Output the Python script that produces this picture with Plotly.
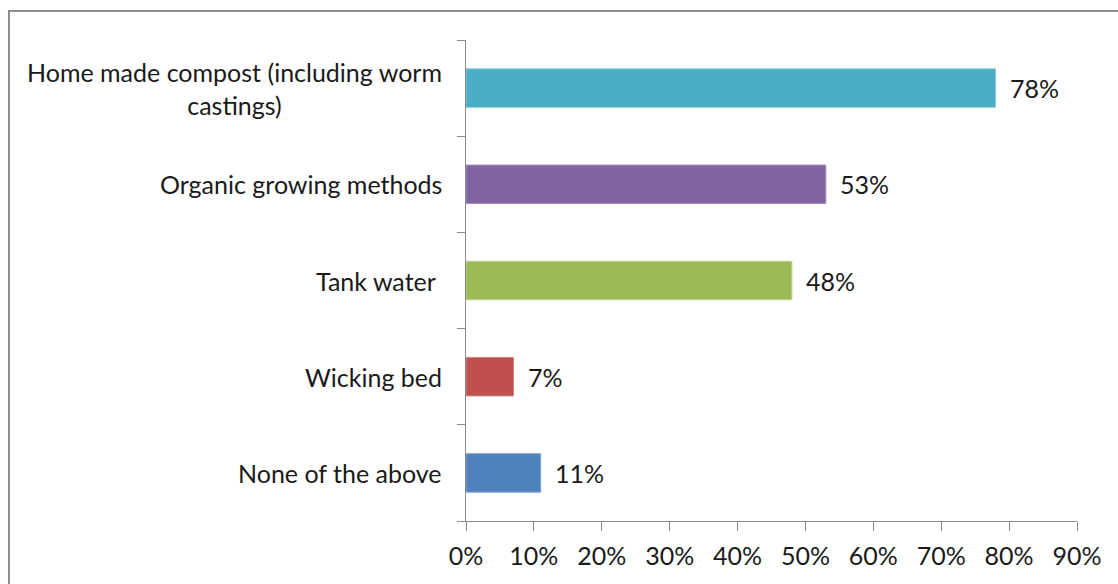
import plotly.graph_objects as go

# Survey responses: share of gardens using each practice
categories = [
    "None of the above",
    "Wicking bed",
    "Tank water\u00a0",
    "Organic growing methods",
    "Home made compost (including worm<br>castings)",
]
values = [11, 7, 48, 53, 78]
colors = ["#4F81BD", "#C0504D", "#9BBB59", "#8064A2", "#4BACC6"]
edge_colors = ["#7FA3D3", "#D68583", "#BBD28C", "#A28DBF", "#84C8DA"]
x_ticks = [0, 10, 20, 30, 40, 50, 60, 70, 80, 90]
x_tick_labels = [f"{t}%" for t in x_ticks]

FONT = "Lato"
FSIZE = 25
TEXT = "#1a1a1a"
AXIS = "#8a8a8a"

fig = go.Figure(
    go.Bar(
        x=values,
        y=list(range(len(categories))),
        orientation="h",
        marker=dict(color=colors, line=dict(color=edge_colors, width=1)),
        width=0.4,
        hoverinfo="skip",
    )
)

annotations = []
# category labels, right-aligned against the axis, wrapped lines centred
for i, cat in enumerate(categories):
    annotations.append(dict(
        x=0, xref="paper", y=i, yref="y",
        text=cat, showarrow=False,
        xanchor="right", yanchor="middle", align="center",
        xshift=-22, font=dict(family=FONT, size=FSIZE, color=TEXT),
    ))
# value labels just past the end of each bar
for i, v in enumerate(values):
    annotations.append(dict(
        x=v, xref="x", y=i, yref="y",
        text=f"{v}%", showarrow=False,
        xanchor="left", yanchor="middle",
        xshift=12, font=dict(family=FONT, size=FSIZE, color=TEXT),
    ))

fig.update_layout(
    width=1118, height=584,
    margin=dict(l=466, r=41, t=40, b=63),
    paper_bgcolor="white", plot_bgcolor="white",
    showlegend=False,
    annotations=annotations,
    xaxis=dict(
        range=[0, 90], tickvals=x_ticks, ticktext=x_tick_labels,
        showgrid=False, zeroline=False,
        showline=True, linecolor=AXIS, linewidth=1,
        ticks="outside", ticklen=9, tickcolor=AXIS, tickwidth=1,
        ticklabelstandoff=4,
        tickfont=dict(family=FONT, size=FSIZE, color=TEXT),
        fixedrange=True,
    ),
    yaxis=dict(
        type="linear", range=[-0.5, 4.5],
        tickvals=[-0.5, 0.5, 1.5, 2.5, 3.5, 4.5], showticklabels=False,
        showgrid=False, zeroline=False,
        showline=True, linecolor=AXIS, linewidth=1,
        ticks="outside", ticklen=8, tickcolor=AXIS, tickwidth=1,
        fixedrange=True,
    ),
    shapes=[dict(
        type="rect", xref="paper", yref="paper",
        x0=-0.748, x1=1.2, y0=-0.3, y1=1.0603,
        line=dict(color="#8c8c8c", width=2), fillcolor="rgba(0,0,0,0)",
        layer="below",
    )],
)

fig.write_html("out.html")
